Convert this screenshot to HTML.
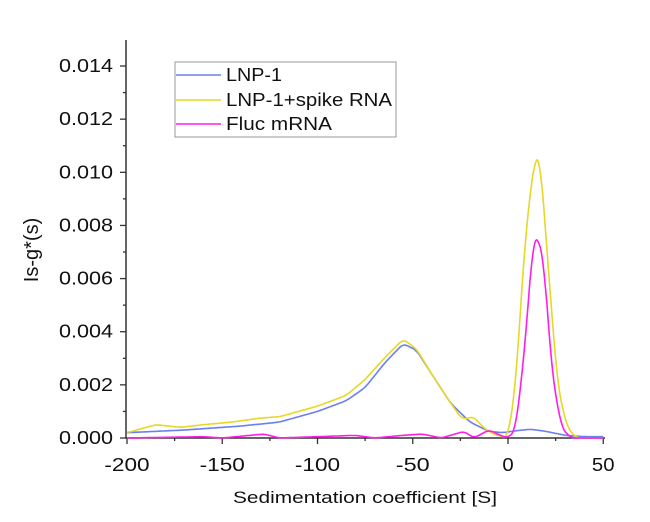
<!DOCTYPE html><html><head><style>body{margin:0;background:#fff}svg{display:block;font-family:"Liberation Sans",sans-serif}</style></head><body>
<svg id="s" width="650" height="522" viewBox="0 0 650 522">
<g stroke="#333" stroke-width="1.5" fill="none">
<path d="M126 40V438H605"/>
</g>
<g id="ticks" stroke="#333" stroke-width="1.3"></g>
<g id="lab" font-size="18" fill="#111"></g>
<text x="0" y="0" font-size="20" fill="#111" text-anchor="middle" transform="translate(38,250) rotate(-90)">Is-g*(s)</text>
<text x="365" y="503" font-size="17" fill="#111" text-anchor="middle" textLength="264" lengthAdjust="spacingAndGlyphs">Sedimentation coefficient [S]</text>
<g id="curves" fill="none" stroke-width="1.6" stroke-linejoin="round"></g>
<rect x="175" y="62" width="221" height="75" fill="#fff" stroke="#999" stroke-width="1"/>
<line x1="176" y1="75" x2="221" y2="75" stroke="#6a7ff0" stroke-width="1.6"/>
<line x1="176" y1="100" x2="221" y2="100" stroke="#e6d824" stroke-width="1.6"/>
<line x1="176" y1="124" x2="221" y2="124" stroke="#ff1ee6" stroke-width="1.6"/>
<g font-size="18" fill="#111"><text x="226" y="81" textLength="56" lengthAdjust="spacingAndGlyphs">LNP-1</text><text x="226" y="106" textLength="166" lengthAdjust="spacingAndGlyphs">LNP-1+spike RNA</text><text x="226" y="130" textLength="106" lengthAdjust="spacingAndGlyphs">Fluc mRNA</text></g>
</svg>
<script>
const X=s=>508+s*1.905, Y=v=>438-v*26.57;
const NS="http://www.w3.org/2000/svg";
const t=document.getElementById('ticks'),l=document.getElementById('lab'),c=document.getElementById('curves');
function el(p,tag,a,txt){const e=document.createElementNS(NS,tag);for(const k in a)e.setAttribute(k,a[k]);if(txt!=null)e.textContent=txt;p.appendChild(e);}
for(let v=0;v<=14.01;v+=1){const y=Y(v),maj=Math.round(v)%2==0;el(t,'line',{x1:126,x2:maj?120:123,y1:y,y2:y});
 if(maj)el(l,'text',{x:113,y:y+6,'text-anchor':'end',textLength:54,lengthAdjust:'spacingAndGlyphs'},(v/1000).toFixed(3));}
for(let s=-200;s<=50;s+=25){const x=X(s),maj=s%50==0;el(t,'line',{x1:x,x2:x,y1:438,y2:maj?444:441});
 if(maj){const str=String(s);el(l,'text',{x:x,y:471,'text-anchor':'middle',textLength:str.length*11.3,lengthAdjust:'spacingAndGlyphs'},str);}}
function interp(pts){const vals=[];const S=[];for(let s=-200;s<=50;s+=0.5){let i=0;while(i<pts.length-2&&pts[i+1][0]<s)i++;
 const a=pts[i],b=pts[i+1];let f=(s-a[0])/(b[0]-a[0]);f=Math.max(0,Math.min(1,f));S.push(s);vals.push(a[1]+(b[1]-a[1])*f);}
 const W=4;let d='';for(let k=0;k<vals.length;k++){let sm=0,n=0;for(let j=-W;j<=W;j++){const q=k+j;if(q>=0&&q<vals.length){sm+=vals[q];n++;}}
 d+=(d?'L':'M')+X(S[k]).toFixed(1)+' '+Y(sm/n).toFixed(1);}return d;}
const blue=[[-200,0.2],[-170,0.3],[-140,0.45],[-120,0.6],[-100,1.0],[-85,1.4],[-75,1.9],[-65,2.8],[-55,3.55],[-48,3.3],[-40,2.4],[-30,1.3],[-20,0.6],[-10,0.25],[-3,0.2],[5,0.28],[12,0.33],[20,0.25],[30,0.1],[40,0.05],[50,0.05]];
const yel=[[-200,0.2],[-185,0.5],[-172,0.4],[-160,0.5],[-145,0.6],[-130,0.75],[-120,0.8],[-100,1.2],[-85,1.6],[-75,2.2],[-65,3.0],[-55,3.72],[-48,3.35],[-40,2.4],[-30,1.3],[-24,0.7],[-18,0.8],[-13,0.4],[-8,0.15],[0,0],[4,2.0],[9,7.5],[14,10.6],[17,10.5],[21,6.5],[26,2.0],[31,0.4],[36,0],[50,0]];
const mag=[[-200,0],[-160,0.05],[-150,0],[-128,0.15],[-120,0],[-80,0.1],[-70,0],[-55,0.1],[-45,0.15],[-35,0],[-23,0.25],[-18,0],[-10,0.3],[-4,0.1],[0,0],[4,0.3],[9,3.5],[13,7.4],[16,7.6],[19,6.5],[23,2.5],[28,0.4],[33,0],[50,0]];
el(c,'path',{d:interp(blue),stroke:'#6a7ff0'});
el(c,'path',{d:interp(yel),stroke:'#e6d824'});
el(c,'path',{d:interp(mag),stroke:'#ff1ee6'});
</script>
</body></html>
